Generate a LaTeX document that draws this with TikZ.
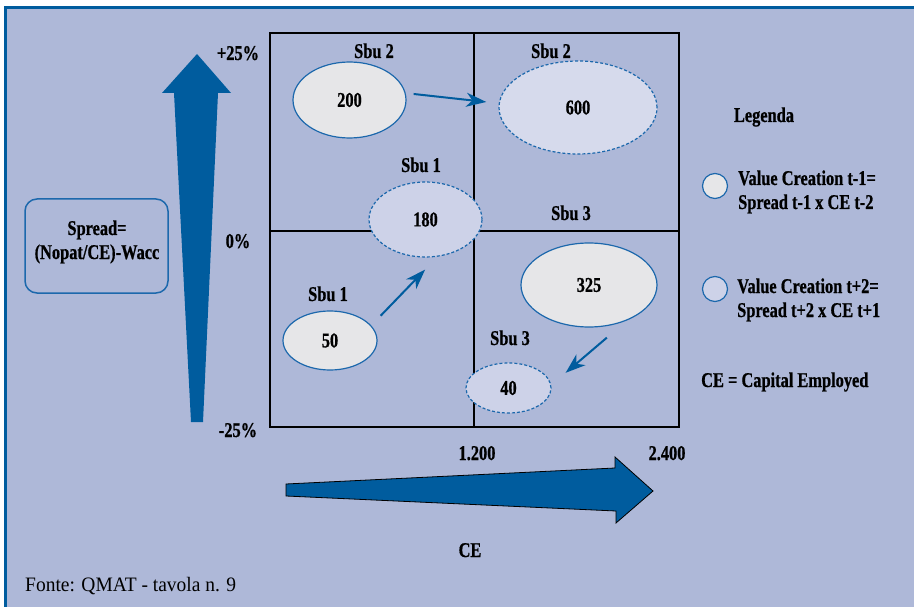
\documentclass[tikz,border=0pt]{standalone}
\usepackage{fontspec}
\setmainfont{Liberation Serif}
\newfontfamily\cf[FakeStretch=0.78,FakeBold=0.7]{Liberation Serif}
\newfontfamily\srcfont[FakeStretch=0.95]{Liberation Serif}
\usetikzlibrary{shapes.geometric,arrows.meta}
\definecolor{bg}{RGB}{174,184,216}
\definecolor{dblue}{RGB}{0,92,158}
\definecolor{eblue}{RGB}{28,104,172}
\definecolor{egray}{RGB}{230,230,232}
\definecolor{elav}{RGB}{214,218,236}
\definecolor{elavb}{RGB}{205,210,232}
\begin{document}
\begin{tikzpicture}[x=1pt,y=-1pt,
 lab/.style={font=\cf\bfseries\fontsize{21}{24}\selectfont, inner sep=0pt},
 ell/.style={ellipse, inner sep=0pt, line width=1.2pt, draw=eblue, font=\cf\bfseries\fontsize{21}{24}\selectfont},
 solidell/.style={ell, fill=egray},
 dashell/.style={ell, dash pattern=on 3pt off 2pt, fill=elavb},
 conn/.style={draw=dblue, line width=2pt, -{Stealth[length=20pt,width=14pt,inset=6pt]}},
 legc/.style={circle, draw=eblue, line width=1.2pt, minimum size=25pt, inner sep=0pt}
]
\useasboundingbox (0,0) rectangle (914,607);
\fill[white] (0,0) rectangle (914,607);
\filldraw[fill=bg, draw=dblue, line width=2.5pt] (5.5,7.5) rectangle (930,630);

% big arrows
\fill[dblue] (197,54) -- (231,93) -- (218,93) -- (203,422) -- (191,422) -- (174,93) -- (162,93) -- cycle;
\filldraw[fill=dblue, draw=black, line width=0.8pt] (286,484) -- (615,468) -- (615,457) -- (653,491) -- (616,523) -- (616,511) -- (286,496) -- cycle;

% grid
\draw[line width=1.2pt] (474,33) -- (474,427);
\draw[line width=1.2pt] (270,231) -- (679,231);
\draw[line width=2.2pt] (270,33) rectangle (679,427);

% ellipses
\node[solidell, minimum width=113pt, minimum height=76pt] (e200) at (349.5,100) {200};
\node[dashell, fill=elav, minimum width=158pt, minimum height=93pt] (e600) at (578,107.5) {600};
\node[dashell, minimum width=113pt, minimum height=75pt] (e180) at (425.5,219.5) {180};
\node[solidell, minimum width=94pt, minimum height=59pt] (e50) at (330,340.5) {50};
\node[solidell, minimum width=136pt, minimum height=84pt] (e325) at (589,285) {325};
\node[dashell, minimum width=85pt, minimum height=50pt] (e40) at (508.5,388) {40};

% connectors
\draw[conn, shorten <=8pt, shorten >=12.5pt] (e200.7) -- (e600.177);
\draw[conn, shorten <=13.5pt, shorten >=18pt] (e50.20) -- (e180.-72);
\draw[conn, shorten <=26.5pt, shorten >=18.8pt] (e325.-43) -- (e40.4);

% sbu labels
\node[lab, anchor=base] (s2a) at (374,58) {Sbu 2};
\node[lab, anchor=base] (s2b) at (551,58) {Sbu 2};
\node[lab, anchor=base] (s1a) at (421,172) {Sbu 1};
\node[lab, anchor=base] (s3a) at (571,220) {Sbu 3};
\node[lab, anchor=base] (s1b) at (328,301) {Sbu 1};
\node[lab, anchor=base] (s3b) at (510,345) {Sbu 3};

% axis labels
\node[lab, anchor=base] (p25) at (238,60) {+25\%};
\node[lab, anchor=base] (z0) at (238,248) {0\%};
\node[lab, anchor=base] (m25) at (238,437) {-25\%};
\node[lab, anchor=base] (x1) at (477,460) {1.200};
\node[lab, anchor=base] (x2) at (667,460) {2.400};
\node[lab, anchor=base] (ce) at (470,557) {CE};

% spread box
\node[draw=eblue, line width=1.5pt, rounded corners=12pt, minimum width=143pt, minimum height=94pt] (spread) at (96.5,246) {};
\node[lab, anchor=base] (sp1) at (97,235) {Spread=};
\node[lab, anchor=base] (sp2) at (97,259) {(Nopat/CE)-Wacc};

% legend
\node[lab, anchor=base] (leg) at (764,122) {Legenda};
\node[legc, fill=egray] (c1) at (715,186) {};
\node[lab, anchor=base west] (t1a) at (738,185) {Value Creation t-1=};
\node[lab, anchor=base west] (t1b) at (738,209) {Spread t-1 x CE t-2};
\node[legc, fill=elavb] (c2) at (715,289) {};
\node[lab, anchor=base west] (t2a) at (737,293) {Value Creation t+2=};
\node[lab, anchor=base west] (t2b) at (737,317) {Spread t+2 x CE t+1};
\node[lab, anchor=base west] (cedef) at (701,387) {CE = Capital Employed};

% source
\node[font=\srcfont\fontsize{20.5}{24}\selectfont, inner sep=0pt, anchor=base west] (src) at (25,591) {Fonte: QMAT - tavola n. 9};
\end{tikzpicture}
\end{document}
